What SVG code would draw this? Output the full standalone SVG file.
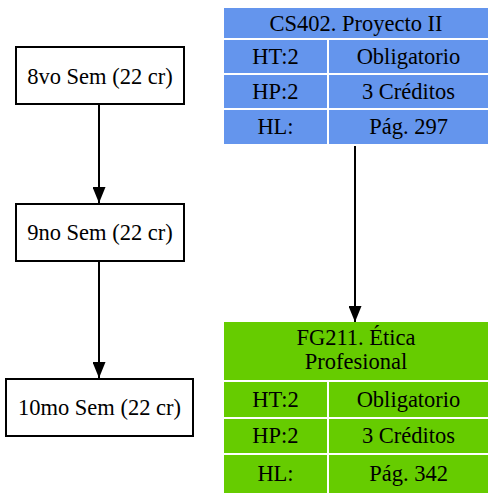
<svg xmlns="http://www.w3.org/2000/svg" width="495" height="502" viewBox="0 0 495 502">
<style>
text{text-anchor:middle;fill:#000;font-family:'Liberation Serif',serif;font-size:22.5px}
.box{fill:#fff;stroke:#000;stroke-width:2}
.blue{fill:#6495ed}
.green{fill:#66cc00}
.edge{stroke:#000;stroke-width:2;fill:none}
</style>
<defs>
<marker id="ah" markerWidth="16" markerHeight="13" refX="16" refY="6.5" orient="auto" markerUnits="userSpaceOnUse" viewBox="0 0 16 13">
<path d="M0,0 L16,6.5 L0,13 Z" fill="#000"/>
</marker>
</defs>
<g id="connectors">
<line class="edge" x1="99" y1="104" x2="99" y2="203" marker-end="url(#ah)"/>
<line class="edge" x1="99" y1="261" x2="99" y2="378" marker-end="url(#ah)"/>
<line class="edge" x1="355" y1="146" x2="355" y2="322" marker-end="url(#ah)"/>
</g>
<g id="n8">
<rect class="box" x="16" y="47" width="168" height="57"/>
<text x="100" y="84">8vo Sem (22 cr)</text>
</g>
<g id="n9">
<rect class="box" x="16" y="204" width="168" height="57"/>
<text x="100" y="240">9no Sem (22 cr)</text>
</g>
<g id="n10">
<rect class="box" x="6" y="379" width="187" height="57"/>
<text x="99.5" y="415">10mo Sem (22 cr)</text>
</g>
<g id="CS402">
<rect class="blue" x="224" y="8" width="264" height="30"/>
<rect class="blue" x="224" y="40" width="103" height="33"/>
<rect class="blue" x="329" y="40" width="159" height="33"/>
<rect class="blue" x="224" y="75" width="103" height="33"/>
<rect class="blue" x="329" y="75" width="159" height="33"/>
<rect class="blue" x="224" y="110" width="103" height="34"/>
<rect class="blue" x="329" y="110" width="159" height="34"/>
<text x="356" y="31">CS402. Proyecto II</text>
<text x="275.5" y="64">HT:2</text>
<text x="408.5" y="64">Obligatorio</text>
<text x="275.5" y="99">HP:2</text>
<text x="408.5" y="99">3 Créditos</text>
<text x="275.5" y="134">HL:</text>
<text x="408.5" y="134">Pág. 297</text>
</g>
<g id="FG211">
<rect class="green" x="224" y="322" width="264" height="58"/>
<rect class="green" x="224" y="382" width="103" height="35"/>
<rect class="green" x="329" y="382" width="159" height="35"/>
<rect class="green" x="224" y="419" width="103" height="34"/>
<rect class="green" x="329" y="419" width="159" height="34"/>
<rect class="green" x="224" y="455" width="103" height="38"/>
<rect class="green" x="329" y="455" width="159" height="38"/>
<text x="356" y="345">FG211. Ética</text>
<text x="356" y="369">Profesional</text>
<text x="275.5" y="407">HT:2</text>
<text x="408.5" y="407">Obligatorio</text>
<text x="275.5" y="443">HP:2</text>
<text x="408.5" y="443">3 Créditos</text>
<text x="275.5" y="481">HL:</text>
<text x="408.5" y="481">Pág. 342</text>
</g>
</svg>
